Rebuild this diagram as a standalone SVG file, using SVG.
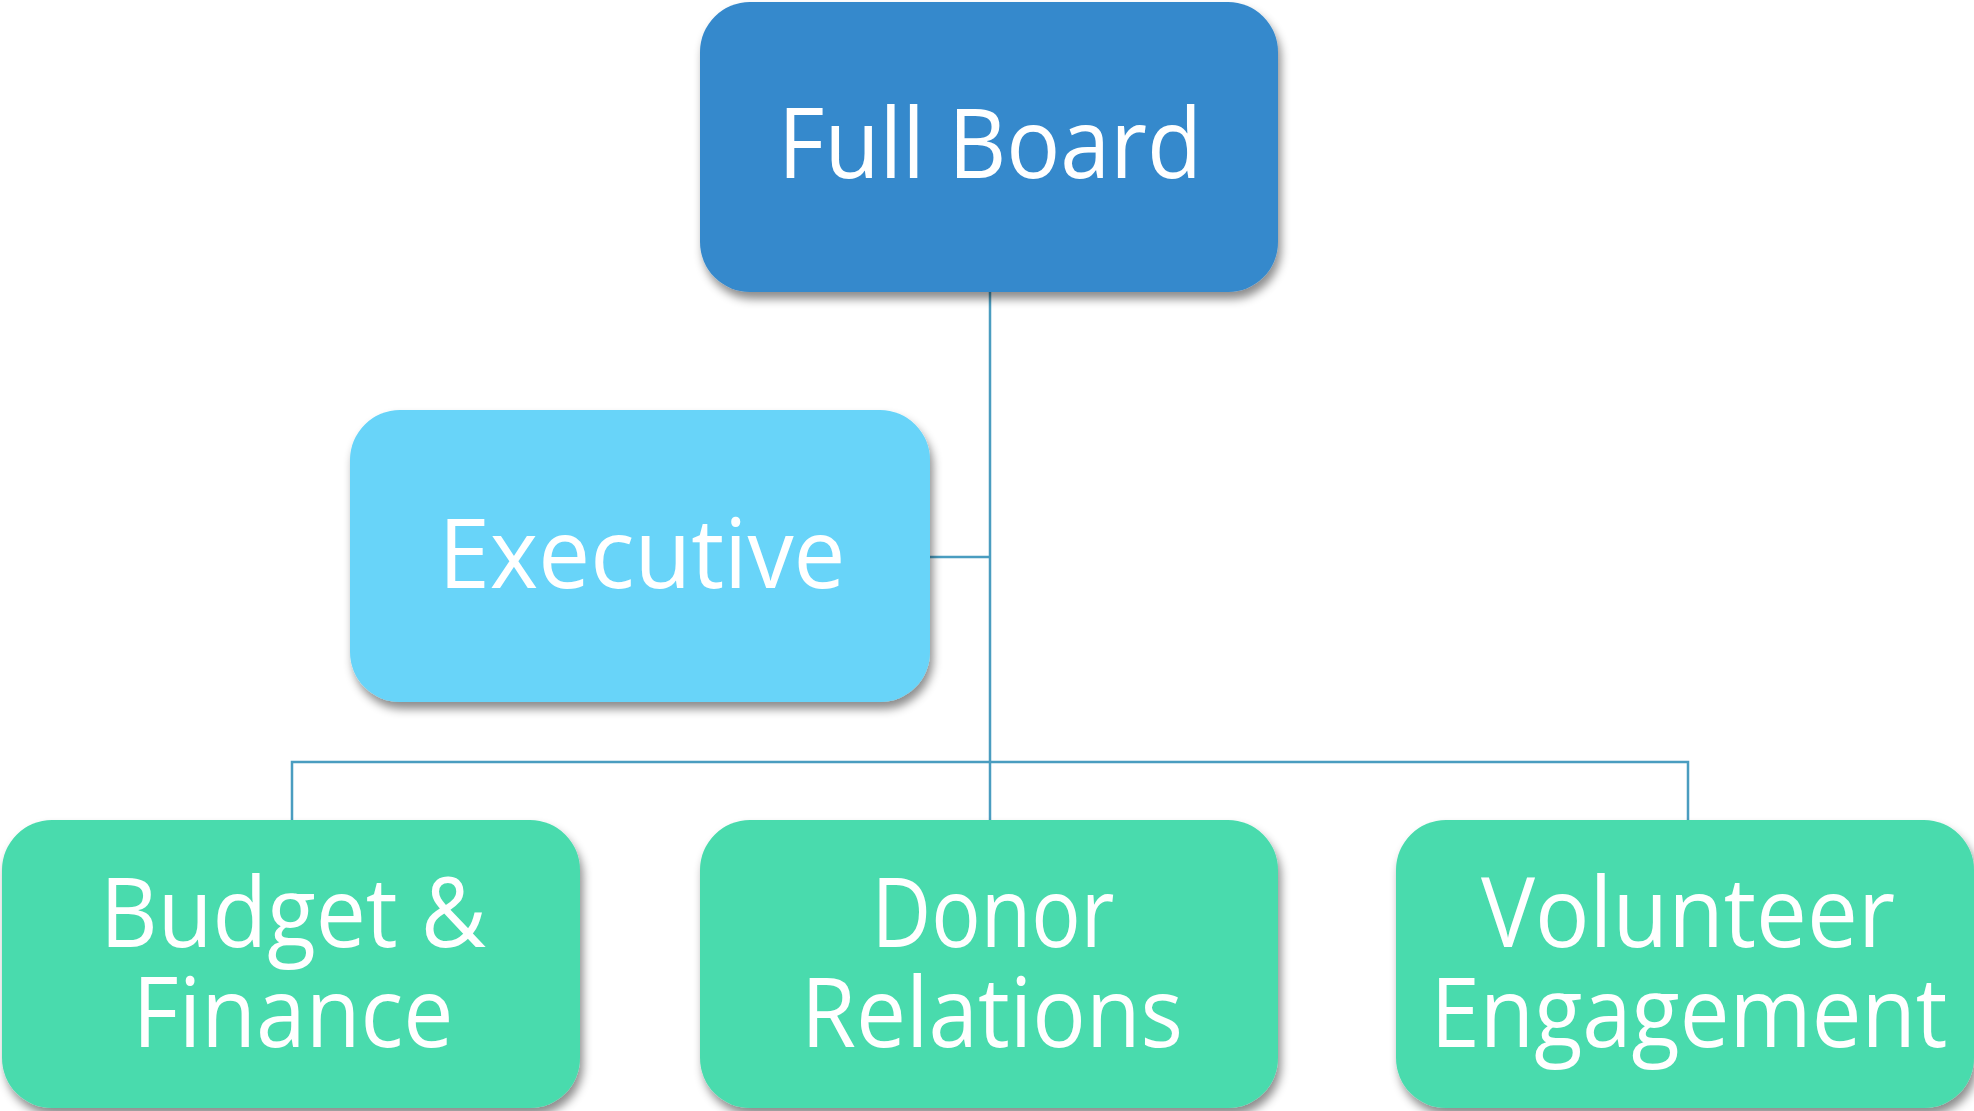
<svg xmlns="http://www.w3.org/2000/svg" width="1974" height="1111" viewBox="0 0 1974 1111">
<defs>
<filter id="sh" x="-10%" y="-10%" width="125%" height="130%">
<feDropShadow dx="3" dy="7" stdDeviation="5" flood-color="#000" flood-opacity="0.45"/>
</filter>
<style>
.box{filter:url(#sh);}
.t{font-family:"Open Sans","Noto Sans","Liberation Sans",sans-serif;font-size:97px;fill:#fff;text-anchor:middle;}
.c{stroke:#4A9DC0;stroke-width:2.5;fill:none;}
</style>
</defs>
<rect width="1974" height="1111" fill="#fff"/>
<g id="connectors">
<path class="c" d="M990,292 V762"/>
<path class="c" d="M930,557 H990"/>
<path class="c" d="M292,820 V762 H1688 V820"/>
<path class="c" d="M990,762 V820"/>
</g>
<g id="full-board">
<rect class="box" x="700" y="2" width="578" height="290" rx="50" fill="#3589CC"/>
<text class="t" x="990" y="178" textLength="424" lengthAdjust="spacingAndGlyphs">Full Board</text>
</g>
<g id="executive">
<rect class="box" x="350" y="410" width="580" height="292" rx="50" fill="#67D4F9"/>
<text class="t" x="642" y="588" textLength="407" lengthAdjust="spacingAndGlyphs">Executive</text>
</g>
<g id="budget-finance">
<rect class="box" x="2" y="820" width="578" height="288" rx="50" fill="#4ADBAD"/>
<text class="t"><tspan x="293" y="947" textLength="386" lengthAdjust="spacingAndGlyphs">Budget &amp;</tspan><tspan x="293" y="1047" textLength="321" lengthAdjust="spacingAndGlyphs">Finance</tspan></text>
</g>
<g id="donor-relations">
<rect class="box" x="700" y="820" width="578" height="288" rx="50" fill="#4ADBAD"/>
<text class="t"><tspan x="993" y="947" textLength="243" lengthAdjust="spacingAndGlyphs">Donor</tspan><tspan x="992" y="1047" textLength="382" lengthAdjust="spacingAndGlyphs">Relations</tspan></text>
</g>
<g id="volunteer-engagement">
<rect class="box" x="1396" y="820" width="578" height="288" rx="50" fill="#4ADBAD"/>
<text class="t"><tspan x="1688" y="947" textLength="414" lengthAdjust="spacingAndGlyphs">Volunteer</tspan><tspan x="1689" y="1047" textLength="517" lengthAdjust="spacingAndGlyphs">Engagement</tspan></text>
</g>
</svg>
